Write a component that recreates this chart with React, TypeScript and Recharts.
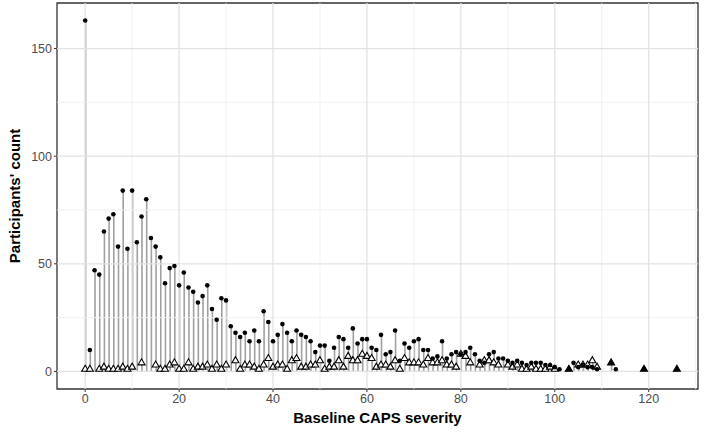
import React from 'react';
import {
  ComposedChart, Bar, Scatter, XAxis, YAxis, ReferenceLine, ReferenceArea, Label,
} from 'recharts';

// Baseline CAPS severity (0..126)
const severity: number[] = Array.from({ length: 127 }, (_, i) => i);

// circles: participants' count per severity score
const circleCounts: (number | null)[] = [
  163, 10, 47, 45, 65, 71, 73, 58, 84, 57,
  84, 60, 72, 80, 62, 58, 53, 41, 48, 49,
  40, 46, 39, 37, 32, 35, 40, 29, 24, 34,
  33, 21, 18, 16, 18, 14, 19, 14, 28, 23,
  14, 17, 22, 18, 14, 19, 17, 16, 14, 9,
  12, 12, 5, 11, 16, 15, 11, 20, 13, 15,
  15, 11, 10, 17, 8, 9, 19, 5, 13, 11,
  14, 15, 10, 10, 6, 7, 14, 6, 8, 9,
  8, 9, 11, 8, 5, 4, 8, 9, 6, 6,
  5, 4, 5, 4, 3, 4, 4, 4, 3, 3,
  2, 1, null, null, 4, 2, 3, 2, 2, 1,
  null, null, null, 1, null, null, null, null, null, null,
  null, null, null, null, null, null, null,
];

// triangles: second group's count per severity score
const triangleCounts: (number | null)[] = [
  1, 1, null, 1, 2, 1, 1, 1, 2, 1,
  2, null, 4, null, null, 3, 1, 1, 3, 4,
  1, 1, 4, 1, 2, 2, 3, 1, 3, 1,
  3, null, 5, 1, 3, 3, 2, 1, 3, 6,
  2, 3, 3, 1, 5, 6, 2, 2, 3, 3,
  5, 1, 2, 2, 5, 2, 7, 5, 5, 8,
  7, 6, 2, 3, 3, 2, 5, 1, 6, 4,
  4, 4, 3, 6, 4, 4, 5, 3, 3, 2,
  8, 7, 4, null, 3, 5, 5, 4, 3, null,
  3, 2, 3, 1, 1, 2, 1, 1, 1, 2,
  1, null, null, 1, null, 3, 3, 3, 5, 2,
  null, null, 4, null, null, null, null, null, null, 1,
  null, null, null, null, null, null, 1,
];

const xTicks = [0, 20, 40, 60, 80, 100, 120];
const xMinor = [10, 30, 50, 70, 90, 110, 130];
const yTicks = [0, 50, 100, 150];
const yMinor = [25, 75, 125];
const xDomain: [number, number] = [-6, 130.5];
const yDomain: [number, number] = [-8.15, 171.15];

const rows = severity.map((x, i) => {
  const dot = circleCounts[i];
  const tri = triangleCounts[i];
  const vals = [dot, tri].filter((v): v is number => v != null);
  return {
    x,
    dot,
    tri,
    stem: vals.length ? Math.max(...vals) : null,
  };
});

const dotShape = (props: any) => {
  const { cx, cy } = props;
  if (cx == null || cy == null) return <g />;
  return <circle cx={cx} cy={cy} r={2.3} fill="#000" />;
};

const triShape = (props: any) => {
  const { cx, cy, payload } = props;
  if (cx == null || cy == null) return <g />;
  const filled = payload && payload.dot == null;
  const h = 6;
  const w = 3.5;
  const pts = `${cx - w},${cy + h / 3} ${cx + w},${cy + h / 3} ${cx},${cy - (2 * h) / 3}`;
  return <polygon points={pts} fill={filled ? '#000' : '#fff'} stroke="#000" strokeWidth={1.1} />;
};

const font = "'Liberation Sans', Arial, sans-serif";

export default function App() {
  return (
    <div style={{ position: 'absolute', left: 0, top: 0, width: 709, height: 436, background: '#fff' }}>
      <ComposedChart
        width={709}
        height={436}
        data={rows}
        margin={{ top: 3, right: 11, bottom: 0, left: 0 }}
        style={{ fontFamily: font }}
      >
        <XAxis
          dataKey="x"
          type="number"
          domain={xDomain}
          ticks={xTicks}
          allowDataOverflow
          height={47}
          axisLine={false}
          tickSize={3}
          tickLine={{ stroke: '#333' }}
          tick={{ fill: '#4d4d4d', fontSize: 12.5 }}
        >
          <Label
            value="Baseline CAPS severity"
            position="insideBottom"
            offset={13}
            style={{ fontWeight: 'bold', fontSize: 15, fill: '#000' }}
          />
        </XAxis>
        <YAxis
          type="number"
          domain={yDomain}
          ticks={yTicks}
          allowDataOverflow
          width={57}
          axisLine={false}
          tickSize={3}
          tickLine={{ stroke: '#333' }}
          tick={{ fill: '#4d4d4d', fontSize: 12.5 }}
        >
          <Label
            value="Participants' count"
            angle={-90}
            position="insideLeft"
            offset={15}
            style={{ fontWeight: 'bold', fontSize: 15, fill: '#000', textAnchor: 'middle' }}
          />
        </YAxis>
        {yMinor.map((v) => (
          <ReferenceLine key={`ym${v}`} y={v} stroke="#efefef" strokeWidth={0.9} />
        ))}
        {xMinor.map((v) => (
          <ReferenceLine key={`xm${v}`} x={v} stroke="#efefef" strokeWidth={0.9} />
        ))}
        {yTicks.map((v) => (
          <ReferenceLine key={`y${v}`} y={v} stroke="#e2e2e2" strokeWidth={1.3} />
        ))}
        {xTicks.map((v) => (
          <ReferenceLine key={`x${v}`} x={v} stroke="#e2e2e2" strokeWidth={1.3} />
        ))}
        <Bar dataKey="stem" fill="#a0a0a0" barSize={1.6} isAnimationActive={false} />
        <Scatter dataKey="tri" shape={triShape} isAnimationActive={false} />
        <Scatter dataKey="dot" shape={dotShape} isAnimationActive={false} />
        <ReferenceArea
          x1={xDomain[0]}
          x2={xDomain[1]}
          y1={yDomain[0]}
          y2={yDomain[1]}
          fill="none"
          fillOpacity={0}
          stroke="#333"
          strokeWidth={1.3}
          ifOverflow="visible"
        />
      </ComposedChart>
    </div>
  );
}
